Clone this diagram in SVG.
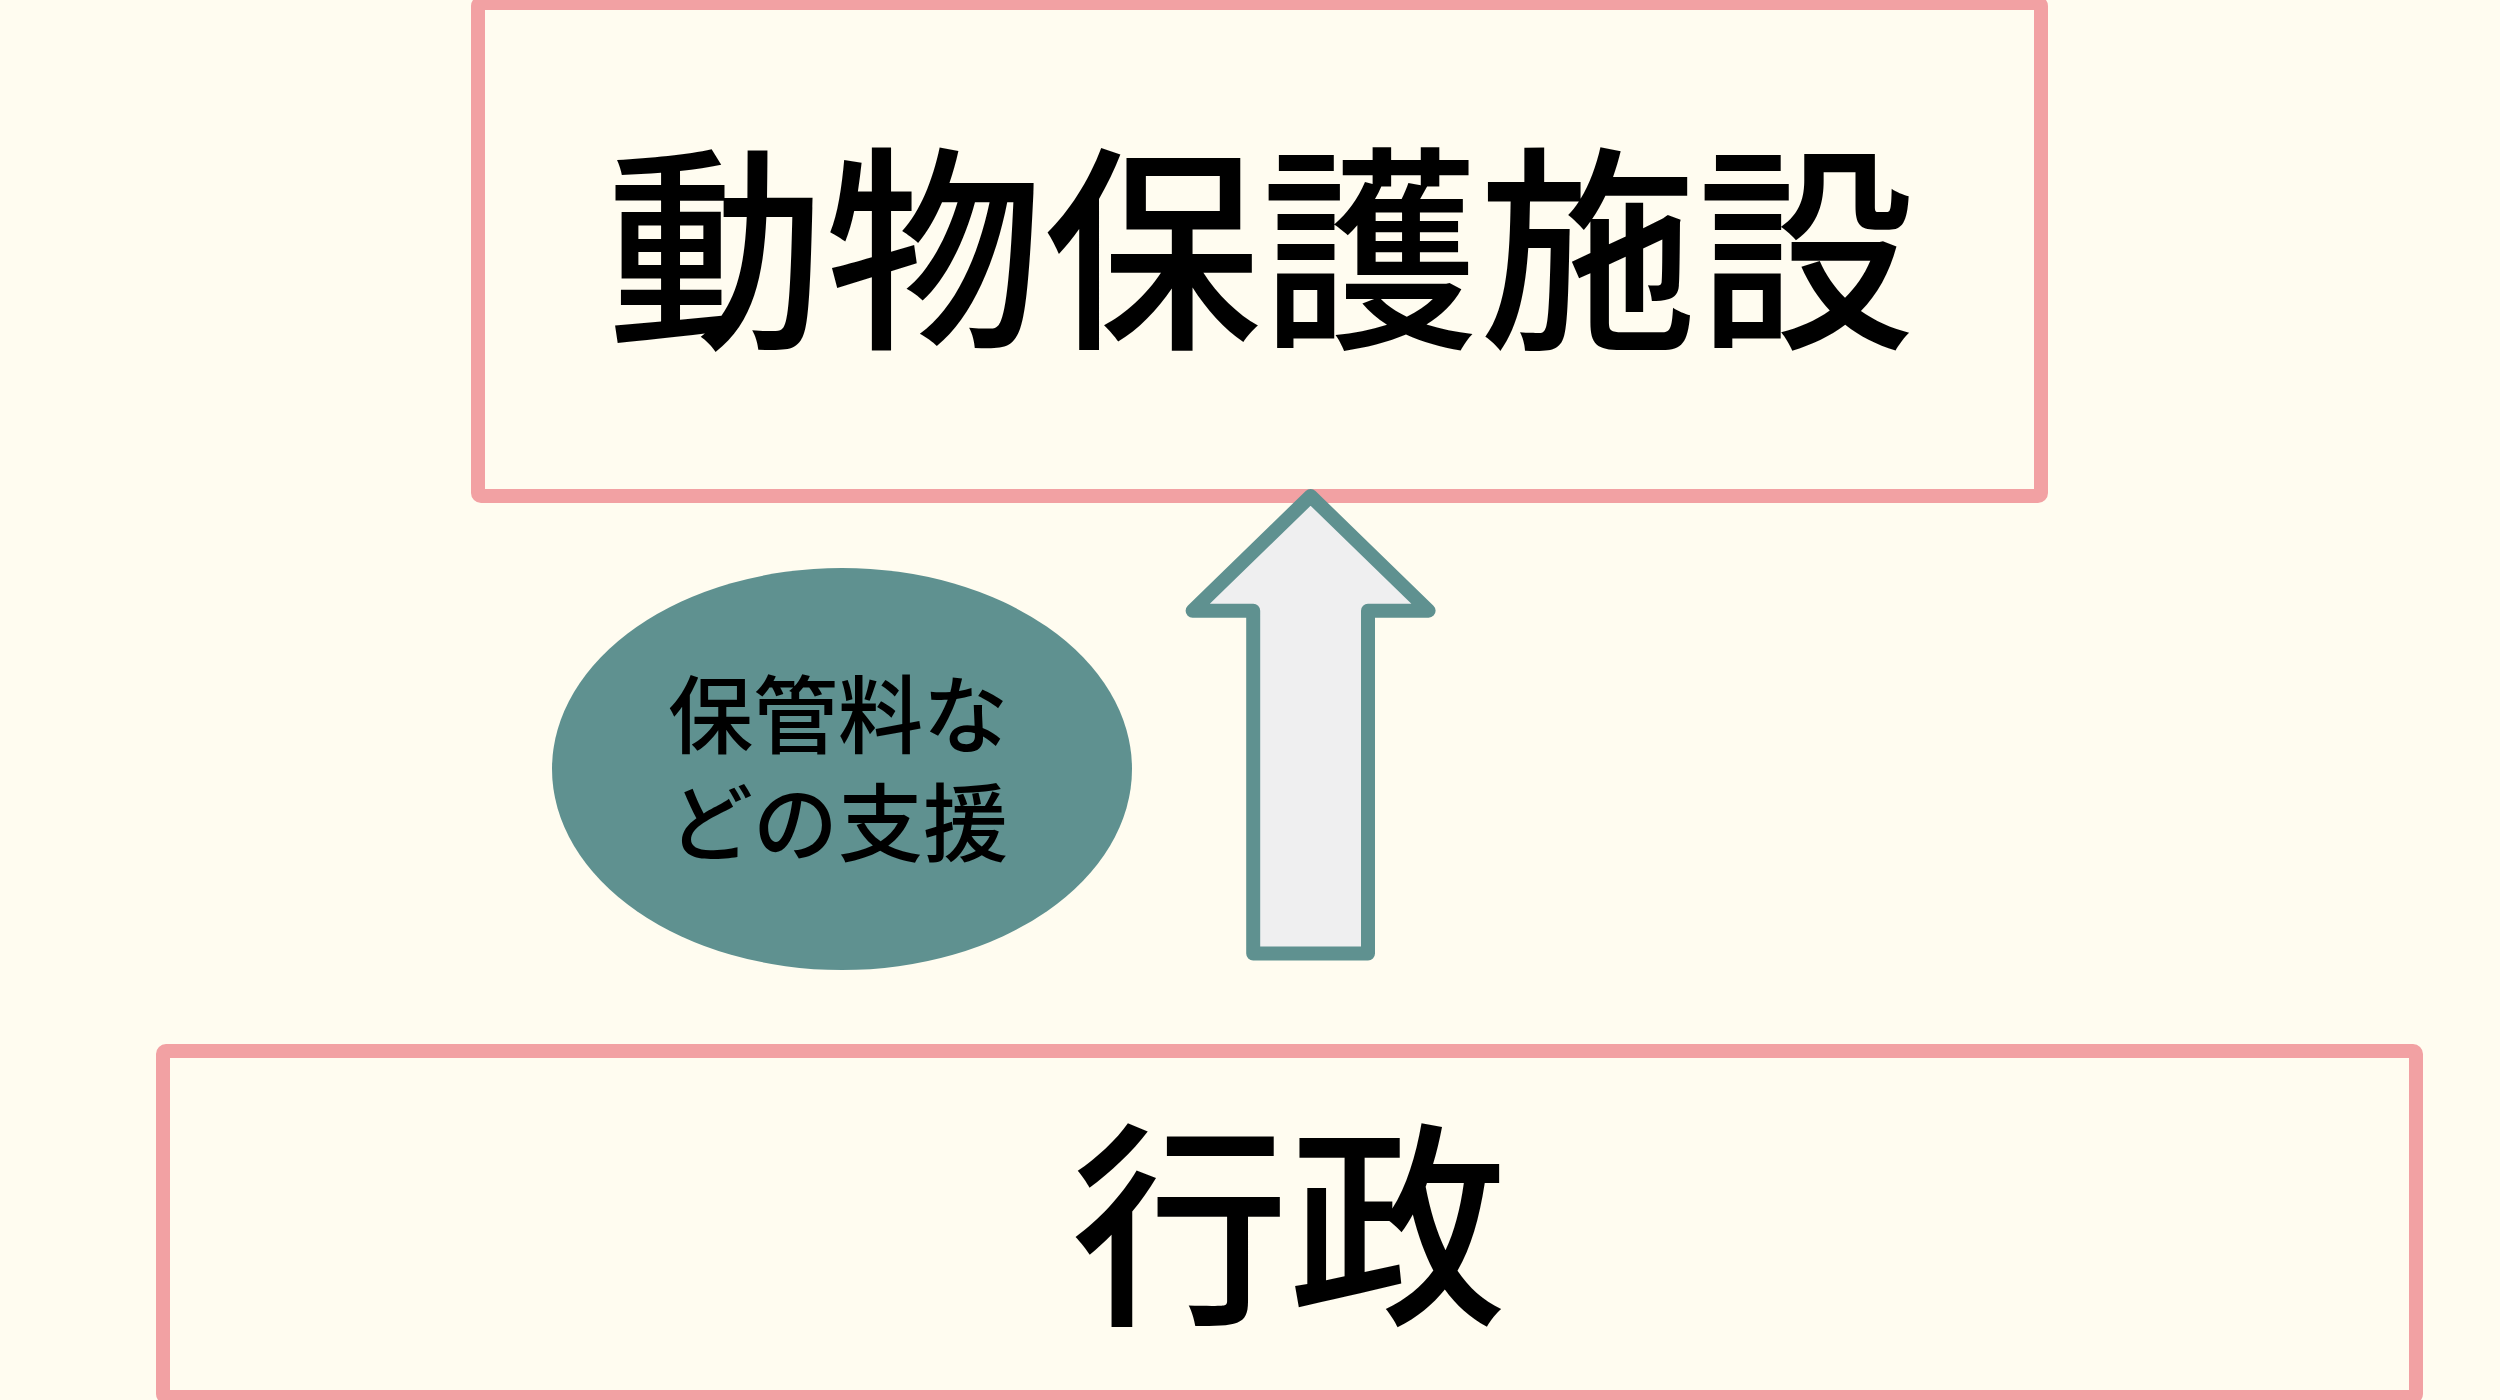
<svg xmlns="http://www.w3.org/2000/svg" width="2500" height="1400" viewBox="0 0 2500 1400">
  <style>
    .box { fill: #fffcf0; stroke: #f2a1a3; stroke-width: 14; stroke-linejoin: round; }
    .big { font-family: "Noto Sans CJK JP", "Noto Sans", sans-serif; font-size: 218px; font-weight: 500; fill: #000000; text-anchor: middle; }
    .small { font-family: "Noto Sans CJK JP", "Noto Sans", sans-serif; font-size: 85px; font-weight: 500; fill: #000000; text-anchor: middle; }
    .bubble { fill: #5f9190; }
    .arrow { fill: #efeff0; stroke: #5f9190; stroke-width: 14; stroke-linejoin: round; }
  </style>
  <rect x="0" y="0" width="2500" height="1400" fill="#fffcf0"/>
  <g id="node-shelter">
    <rect class="box" x="478" y="3" width="1563" height="493" rx="3"/>
    <text class="big" x="1261" y="332">動物保護施設</text>
  </g>
  <g id="node-gov">
    <rect class="box" x="163" y="1051" width="2253" height="346" rx="3"/>
    <text class="big" x="1289" y="1308">行政</text>
  </g>
  <g id="node-support">
    <ellipse class="bubble" cx="842" cy="769" rx="290" ry="201"/>
    <text class="small" x="838" y="747">保管料な</text>
    <text class="small" x="838" y="855">どの支援</text>
  </g>
  <g id="connectors">
    <path class="arrow" d="M1310.6 496 L1428.6 610.7 L1368 610.7 L1368 953.5 L1253.2 953.5 L1253.2 610.7 L1192.6 610.7 Z"/>
  </g>
</svg>
